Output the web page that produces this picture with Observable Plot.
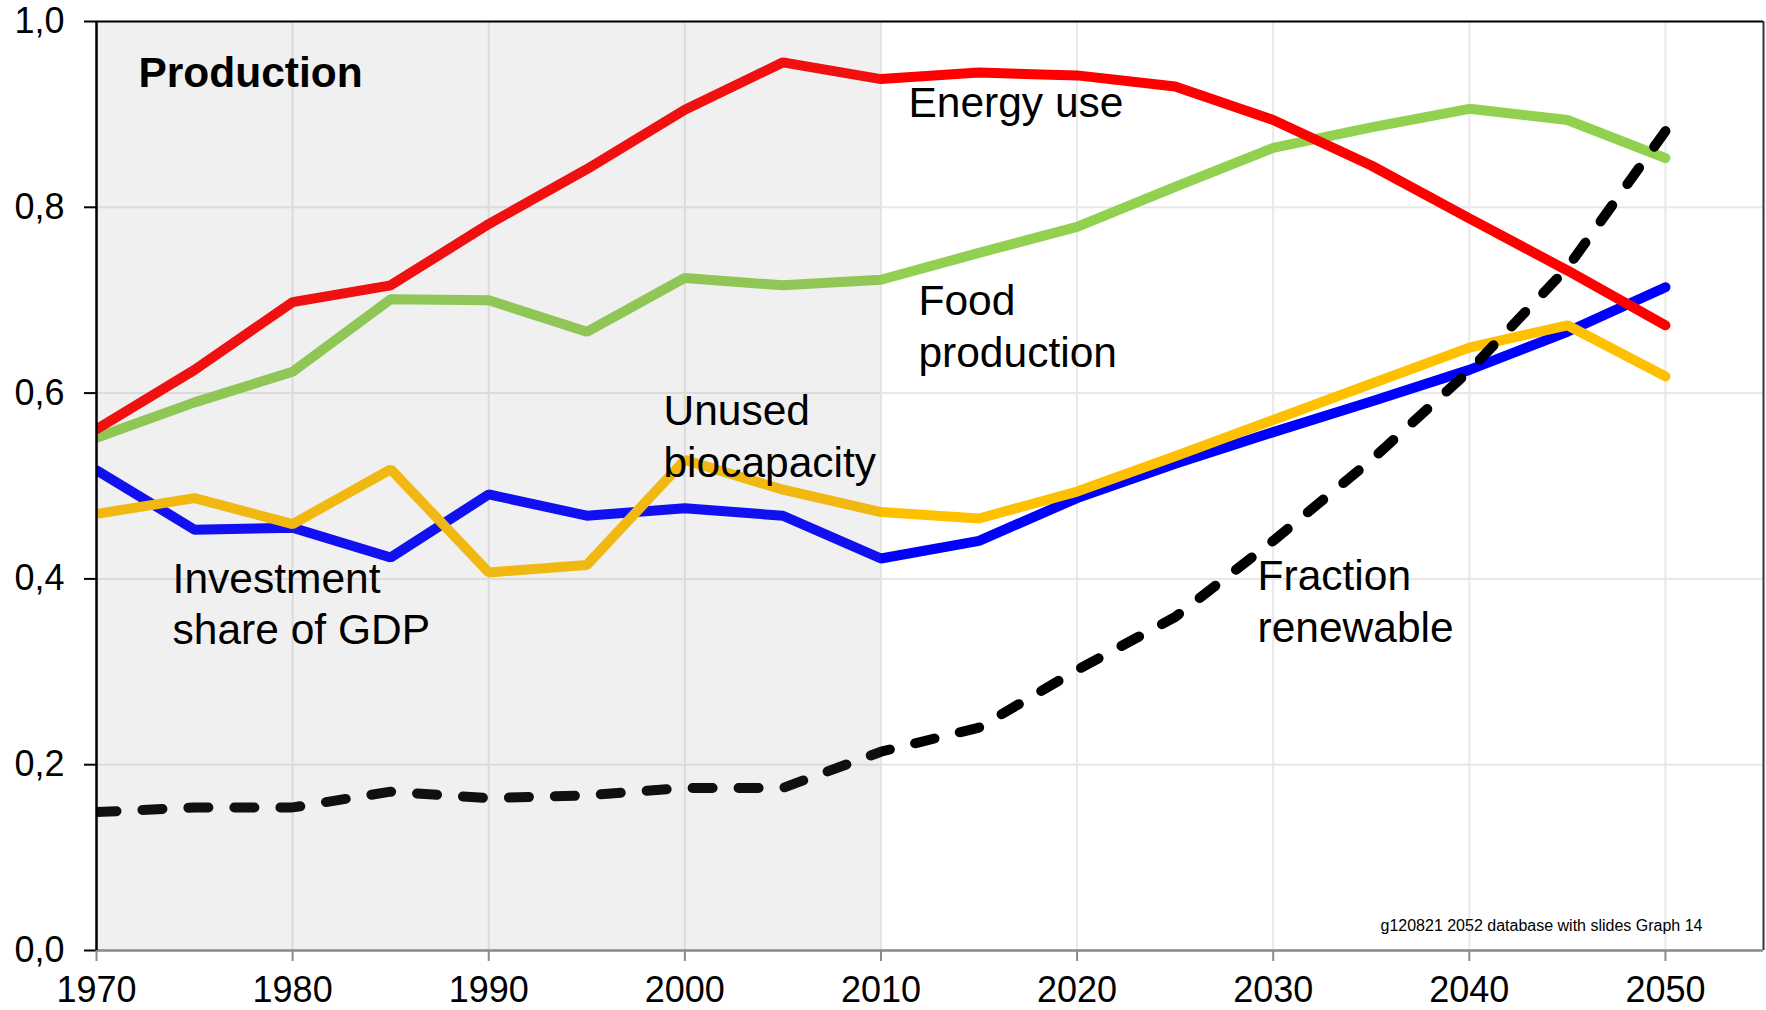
<!DOCTYPE html>
<html>
<head>
<meta charset="utf-8">
<script src="https://cdn.jsdelivr.net/npm/d3@7"></script>
<script src="https://cdn.jsdelivr.net/npm/@observablehq/plot@0.6"></script>
<style>
  html, body { margin: 0; padding: 0; background: #fff; }
  #chart svg { display: block; }
</style>
</head>
<body>
<div id="chart"></div>
<script>
// Production indicators, 1970–2050 (index values 0–1)
const years = [1970, 1975, 1980, 1985, 1990, 1995, 2000, 2005, 2010, 2015, 2020, 2025, 2030, 2035, 2040, 2045, 2050];
const energyUse         = [0.561, 0.625, 0.698, 0.716, 0.782, 0.841, 0.905, 0.956, 0.938, 0.945, 0.942, 0.930, 0.894, 0.845, 0.788, 0.732, 0.673];
const foodProduction    = [0.552, 0.590, 0.623, 0.701, 0.700, 0.666, 0.724, 0.716, 0.722, 0.751, 0.779, 0.822, 0.864, 0.886, 0.906, 0.894, 0.853];
const investmentShare   = [0.517, 0.453, 0.455, 0.423, 0.491, 0.468, 0.476, 0.468, 0.422, 0.441, 0.487, 0.524, 0.558, 0.591, 0.625, 0.666, 0.714];
const unusedBiocapacity = [0.470, 0.487, 0.459, 0.518, 0.407, 0.415, 0.528, 0.496, 0.472, 0.465, 0.494, 0.532, 0.571, 0.610, 0.649, 0.673, 0.618];
const fractionRenewable = [0.149, 0.154, 0.154, 0.171, 0.164, 0.167, 0.175, 0.175, 0.214, 0.240, 0.302, 0.359, 0.441, 0.528, 0.624, 0.735, 0.882];

const xTicks = [1970, 1980, 1990, 2000, 2010, 2020, 2030, 2040, 2050];
const yTicks = [0, 0.2, 0.4, 0.6, 0.8, 1.0];
const xDomain = [1970, 2055];
const yDomain = [0, 1];
const historicalPeriod = [1970, 2010];

const panelTitle = "Production";
const sourceNote = "g120821 2052 database with slides Graph 14";

// Series in drawing order (later ones on top)
const series = [
  {name: "Food production",         values: foodProduction,    color: "#92d050"},
  {name: "Investment share of GDP", values: investmentShare,   color: "#0000ff"},
  {name: "Unused biocapacity",      values: unusedBiocapacity, color: "#ffc000"},
  {name: "Energy use",              values: energyUse,         color: "#ff0000"},
  {name: "Fraction renewable",      values: fractionRenewable, color: "#000000", dashed: true}
];

const toRows = s => years.map((year, i) => ({year, value: s.values[i]}));

// Inline series labels, anchored at the baseline of their last line
const labels = [
  {text: "Energy use",               year: 2011.40, value: 0.8967},
  {text: "Food\nproduction",         year: 2011.91, value: 0.6279},
  {text: "Unused\nbiocapacity",      year: 1998.91, value: 0.5095},
  {text: "Investment\nshare of GDP", year: 1973.88, value: 0.3294},
  {text: "Fraction\nrenewable",      year: 2029.20, value: 0.3319}
];

const font = "'Liberation Sans', Arial, Helvetica, sans-serif";

const lineMarks = series.map(s => Plot.line(toRows(s), {
  x: "year",
  y: "value",
  stroke: s.color,
  strokeWidth: 10,
  strokeLinecap: "round",
  strokeLinejoin: s.dashed ? "round" : "miter",
  strokeDasharray: s.dashed ? "20,26" : null,
  clip: true
}));

const chart = Plot.plot({
  width: 1766,
  height: 1010,
  marginLeft: 96,
  marginRight: 3,
  marginTop: 21,
  marginBottom: 60,
  style: {fontFamily: font, fontSize: "36px", color: "#000", background: "#fff"},
  x: {domain: xDomain, axis: null},
  y: {domain: yDomain, axis: null},
  marks: [
    Plot.gridX(xTicks, {stroke: "#e8e8e8", strokeOpacity: 1, strokeWidth: 2}),
    Plot.gridY(yTicks, {stroke: "#e8e8e8", strokeOpacity: 1, strokeWidth: 2}),
    ...lineMarks,
    // translucent shading over the historical period
    Plot.rect([historicalPeriod], {
      x1: d => d[0], x2: d => d[1],
      y1: () => yDomain[0], y2: () => yDomain[1],
      fill: "#848484", fillOpacity: 0.12
    }),
    // frame: black top and left, gray bottom axis, dark right edge
    Plot.ruleY([yDomain[1]], {stroke: "#000", strokeWidth: 2}),
    Plot.ruleX([xDomain[1]], {stroke: "#333", strokeWidth: 2}),
    Plot.ruleY([yDomain[0]], {stroke: "#8a8a8a", strokeWidth: 2.5}),
    Plot.ruleX([xDomain[0]], {stroke: "#000", strokeWidth: 2.5}),
    Plot.axisY({
      ticks: yTicks,
      tickFormat: d => d.toFixed(1).replace(".", ","),
      tickSize: 12,
      tickPadding: 20,
      stroke: "#000",
      strokeWidth: 2,
      fill: "#000",
      fontSize: 36,
      label: null
    }),
    Plot.axisX({
      ticks: xTicks,
      tickFormat: d => String(d),
      tickSize: 11,
      tickPadding: 15,
      stroke: "#8a8a8a",
      strokeWidth: 2,
      fill: "#000",
      fontSize: 36,
      label: null
    }),
    Plot.text(labels, {
      x: "year", y: "value", text: "text",
      textAnchor: "start", lineAnchor: "bottom", lineHeight: 1.22,
      fontSize: 42.5, fill: "#000", fontFamily: font
    }),
    Plot.text([panelTitle], {
      x: () => 1972.14, y: () => 0.9295, text: d => d,
      textAnchor: "start", lineAnchor: "bottom",
      fontSize: 42.5, fontWeight: "bold", fill: "#000", fontFamily: font
    }),
    Plot.text([sourceNote], {
      x: () => 2051.89, y: () => 0.0215, text: d => d,
      textAnchor: "end", lineAnchor: "bottom",
      fontSize: 16, fill: "#000", fontFamily: font
    })
  ]
});

document.getElementById("chart").appendChild(chart);
</script>
</body>
</html>
